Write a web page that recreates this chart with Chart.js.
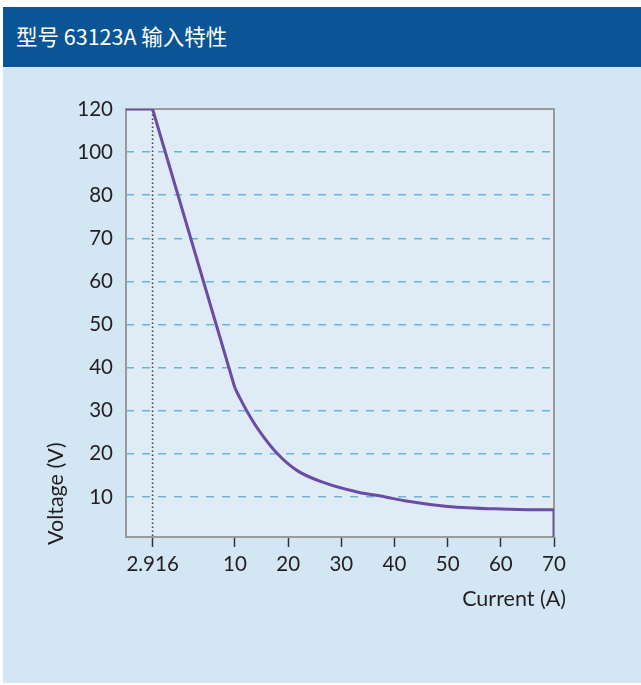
<!DOCTYPE html>
<html>
<head>
<meta charset="utf-8">
<script src="https://cdn.jsdelivr.net/npm/chart.js@4.4.0/dist/chart.umd.min.js"></script>
<style>
    body { margin: 0; background: #ffffff; }
    #header {
        position: absolute; left: 3px; top: 7px; width: 638px; height: 60px;
        background: #0b5596; color: #ffffff;
        font-family: "Noto Sans CJK SC", "Noto Sans", sans-serif; font-size: 21.5px;
        line-height: 58px; padding-left: 13px; box-sizing: border-box;
    }
    #panel {
        position: absolute; left: 3px; top: 67px; width: 638px; height: 616px;
        background: #d3e6f4;
    }
    #chart { position: absolute; left: 0; top: 0; }
</style>
</head>
<body>
<div id="header">型号 63123A 输入特性</div>
<div id="panel"></div>
<canvas id="chart" width="641" height="685"></canvas>
<script>
// input characteristic
const current = [0, 2.916, 10, 10.9, 12.2, 14.3, 18, 21.7, 27, 33.2, 38.3, 41.9, 50, 60, 70, 70];
const voltage = [120, 120, 35.2, 33, 30, 25.8, 20, 16.1, 13.2, 11.1, 10, 9.1, 7.8, 7.2, 7.0, 0];

const currentTicks = [2.916, 10, 20, 30, 40, 50, 60, 70];
const voltageTicks = [10, 20, 30, 40, 50, 60, 70, 80, 100, 120];

const markerCurrent = [2.916, 2.916];
const markerVoltage = [0, 120];

// the axes in the picture are not linear: map values onto even steps
function xPos(a) {
    if (a <= 2.916) return a / 2.916 * 0.5;
    if (a <= 10) return 0.5 + (a - 2.916) / (10 - 2.916) * 1.55;
    return 2.05 + (a - 10) / 10;
}

function yPos(v) {
    if (v <= 80) return v / 10;
    return 8 + (v - 80) / 20;
}

function points(xs, ys) {
    return xs.map((x, i) => ({ x: xPos(x), y: yPos(ys[i]) }));
}

const plotFrame = {
    id: 'plotFrame',
    beforeDraw(chart) {
        const { ctx, chartArea: a } = chart;
        ctx.save();
        ctx.fillStyle = '#dfecf6';
        ctx.fillRect(a.left, a.top, a.right - a.left, a.bottom - a.top);
        ctx.restore();
    },
    beforeDatasetsDraw(chart) {
        const { ctx, chartArea: a } = chart;
        ctx.save();
        ctx.strokeStyle = '#9a9a9a';
        ctx.lineWidth = 2;
        ctx.strokeRect(a.left, a.top, a.right - a.left, a.bottom - a.top);
        ctx.restore();
    },
    afterDraw(chart) {
        const { ctx, chartArea: a } = chart;
        ctx.save();
        ctx.fillStyle = '#231f20';
        ctx.font = '21.5px Lato';
        ctx.textBaseline = 'middle';
        ctx.textAlign = 'right';
        ctx.fillText('Current (A)', a.right + 12, 599);
        ctx.translate(56, a.bottom + 8);
        ctx.rotate(-Math.PI / 2);
        ctx.textAlign = 'left';
        ctx.fillText('Voltage (V)', 0, 0);
        ctx.restore();
    }
};

const flat = points(current.slice(0, 3), voltage.slice(0, 3));
const curve = points(current.slice(2), voltage.slice(2));

new Chart(document.getElementById('chart'), {
    type: 'line',
    data: {
        datasets: [
            {
                data: points(markerCurrent, markerVoltage),
                borderColor: '#444444',
                borderWidth: 1.6,
                borderDash: [1.6, 2.4],
                pointRadius: 0,
                order: 3
            },
            {
                data: flat,
                borderColor: '#6a4ca3',
                borderWidth: 3,
                pointRadius: 0,
                tension: 0,
                order: 1
            },
            {
                data: curve,
                borderColor: '#6a4ca3',
                borderWidth: 3,
                pointRadius: 0,
                cubicInterpolationMode: 'monotone',
                order: 1
            }
        ]
    },
    options: {
        responsive: false,
        animation: false,
        layout: { padding: { left: 0, top: 109, right: 87, bottom: 0 } },
        plugins: { legend: { display: false }, tooltip: { enabled: false } },
        scales: {
            x: {
                type: 'linear',
                min: 0,
                max: xPos(70),
                afterFit: (s) => { s.height = 148; },
                afterBuildTicks: (s) => { s.ticks = currentTicks.map(c => ({ value: xPos(c) })); },
                border: { display: false },
                grid: {
                    drawOnChartArea: false,
                    drawTicks: true,
                    tickLength: 10,
                    tickColor: '#333333',
                    tickWidth: 1.5
                },
                ticks: {
                    padding: 5,
                    maxRotation: 0,
                    autoSkip: false,
                    color: '#231f20',
                    font: { family: 'Lato', size: 20.5 },
                    callback: (v, i) => String(currentTicks[i])
                }
            },
            y: {
                type: 'linear',
                min: 0.07,
                max: yPos(120),
                afterFit: (s) => { s.width = 126; },
                afterBuildTicks: (s) => { s.ticks = voltageTicks.map(v => ({ value: yPos(v) })); },
                border: { display: false, dash: [8, 8] },
                grid: {
                    drawTicks: false,
                    lineWidth: 1.5,
                    color: (c) => (c.tick && c.tick.value >= yPos(120)) ? 'rgba(0,0,0,0)' : '#6db3d6'
                },
                ticks: {
                    padding: 13,
                    autoSkip: false,
                    color: '#231f20',
                    font: { family: 'Lato', size: 20.5 },
                    callback: (v, i) => String(voltageTicks[i])
                }
            }
        }
    },
    plugins: [plotFrame]
});
</script>
</body>
</html>
